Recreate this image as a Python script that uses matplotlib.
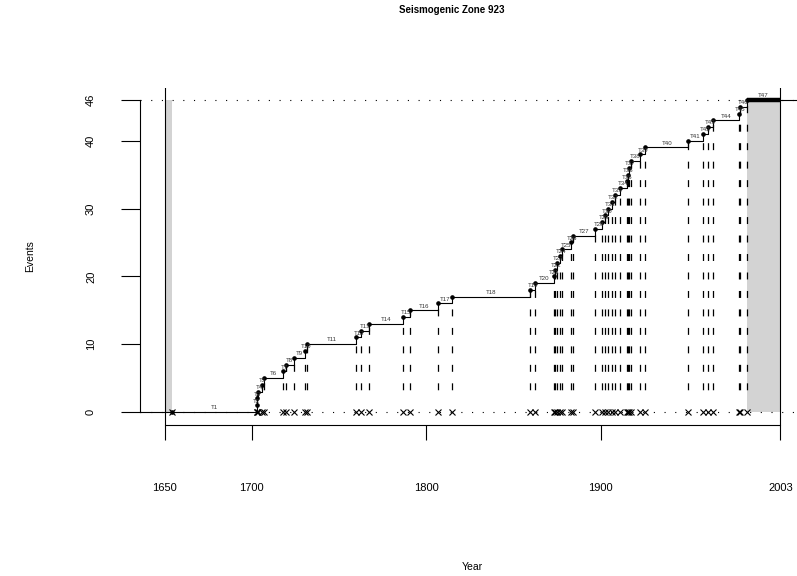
import matplotlib
matplotlib.use("Agg")
import matplotlib.pyplot as plt
import numpy as np

plt.rcParams['font.family'] = ['Liberation Sans', 'DejaVu Sans']
plt.rcParams['lines.scale_dashes'] = False

title = "Seismogenic Zone 923"
x_label = "Year"
y_label = "Events"
x_start, x_end = 1650, 2003
x_ticks = [1650, 1700, 1800, 1900, 2003]
y_ticks = [0, 10, 20, 30, 40, 46]

# event years (event index = cumulative count)
event_years = [
    1654.4, 1702.7, 1703.0, 1703.5, 1705.6, 1706.7, 1717.8, 1719.7, 1723.9,
    1730.6, 1731.8, 1759.8, 1762.7, 1767.0, 1786.5, 1790.9, 1807.0, 1815.0,
    1859.5, 1862.5, 1873.0, 1874.0, 1875.1, 1876.5, 1877.6, 1883.0, 1883.9,
    1896.9, 1900.8, 1902.7, 1904.4, 1906.4, 1908.4, 1911.0, 1915.1, 1915.6,
    1916.1, 1917.3, 1922.7, 1925.4, 1950.2, 1958.4, 1961.7, 1964.2, 1979.4,
    1980.0, 1983.6,
]

ev = np.array(event_years)
n = len(ev) - 1
levels = np.arange(len(ev))

W, H = 797, 576
fig = plt.figure(figsize=(W / 100, H / 100), dpi=100)
ax = fig.add_axes([140 / W, (H - 424.5) / H, 665 / W, 337 / H])
px = 0.04 * (x_end - x_start)
ax.set_xlim(x_start - px, x_end + px)
ax.set_ylim(-0.04 * n, n * 1.04)

# shaded censoring zones
ax.fill_between([x_start, ev[0]], 0, n, color='#d3d3d3', lw=0, zorder=1)
ax.fill_between([ev[-1], x_end], 0, n, color='#d3d3d3', lw=0, zorder=1)

# dotted reference lines
for yv in (0, n):
    ax.axhline(yv, color='black', lw=0.8, ls=(0, (0.8, 6.9)), zorder=2)

# vertical bounds
for xv in (x_start, x_end):
    ax.axvline(xv, color='black', lw=0.8, zorder=3)

# dashed columns under each event
ax.vlines(ev[1:], 3.0, levels[1:], colors='black', lw=0.9,
          linestyles=[(11.7, (5.0, 8.3))], zorder=2)

# step curve
xs = np.concatenate([[x_start - px], ev, [x_end + px]])
ys = np.concatenate([[0], [0], levels[1:], [n]])
ax.step(xs, ys, where='post', color='black', lw=0.8, zorder=4)
ax.plot([ev[-1], x_end], [n, n], color='black', lw=3.2, solid_capstyle='butt', zorder=5)

# points and baseline markers
ax.plot(ev, levels, 'o', color='black', ms=2.3, zorder=6)
ax.plot(ev, np.zeros_like(ev), 'x', color='black', ms=5, mew=0.8, zorder=6)

# inter-event labels
ends = np.concatenate([ev[1:], [x_end]])
for i in range(len(ev)):
    ax.text((ev[i] + ends[i]) / 2, i + 0.25, f"T{i + 1}", ha='center', va='bottom',
            fontsize=4.4, color='#333333', zorder=7)

# axes styling
for s in ('top', 'right'):
    ax.spines[s].set_visible(False)
ax.spines['left'].set_bounds(0, n)
ax.spines['bottom'].set_bounds(x_start, x_end)
ax.spines['left'].set_linewidth(0.8)
ax.spines['bottom'].set_linewidth(0.8)
ax.set_xticks(x_ticks)
ax.set_xticklabels([str(t) for t in x_ticks], fontsize=8)
ax.set_yticks(y_ticks)
ax.set_yticklabels([str(t) for t in y_ticks], fontsize=8, rotation=90, va='center')
ax.tick_params(axis='x', length=10.8, width=0.8, pad=31)
ax.tick_params(axis='y', length=13.7, width=0.8, pad=18)

fig.text(452 / W, 1 - 10 / H, title, ha='center', va='center', fontsize=7, weight='bold')
fig.text(472.5 / W, 1 - 567 / H, x_label, ha='center', va='center', fontsize=7.5)
fig.text(30 / W, 1 - 256 / H, y_label, ha='center', va='center', fontsize=7.5, rotation=90)

fig.savefig("out.png", dpi=100)
